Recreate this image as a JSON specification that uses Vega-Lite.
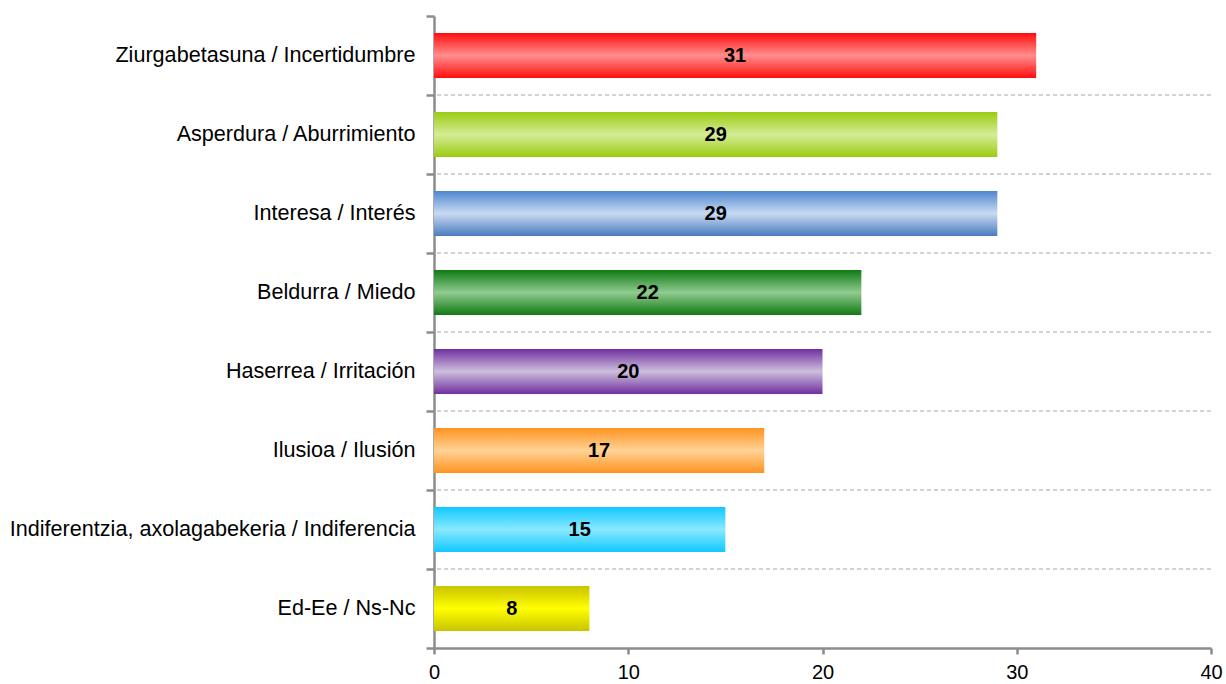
{
  "$schema": "https://vega.github.io/schema/vega-lite/v6.json",
  "width": 777,
  "height": 632,
  "autosize": {"type": "none"},
  "padding": {"left": 434, "top": 16, "right": 15, "bottom": 36},
  "background": "white",
  "config": {"view": {"stroke": null}, "font": "Liberation Sans"},
  "data": {"values": [
    {"cat": "Ziurgabetasuna / Incertidumbre", "n": 31},
    {"cat": "Asperdura / Aburrimiento", "n": 29},
    {"cat": "Interesa / Interés", "n": 29},
    {"cat": "Beldurra / Miedo", "n": 22},
    {"cat": "Haserrea / Irritación", "n": 20},
    {"cat": "Ilusioa / Ilusión", "n": 17},
    {"cat": "Indiferentzia, axolagabekeria / Indiferencia", "n": 15},
    {"cat": "Ed-Ee / Ns-Nc", "n": 8}
  ]},
  "encoding": {
    "y": {
      "field": "cat", "type": "nominal", "title": null,
      "scale": {
        "domain": ["Ziurgabetasuna / Incertidumbre", "Asperdura / Aburrimiento", "Interesa / Interés", "Beldurra / Miedo", "Haserrea / Irritación", "Ilusioa / Ilusión", "Indiferentzia, axolagabekeria / Indiferencia", "Ed-Ee / Ns-Nc"],
        "paddingInner": 0, "paddingOuter": 0
      },
      "axis": {
        "domainColor": "#8c8c8c", "domainWidth": 2.5,
        "tickColor": "#8c8c8c", "tickWidth": 2.5, "tickSize": 8,
        "bandPosition": 1, "tickExtra": true,
        "labelFontSize": 21.6, "labelColor": "#000000", "labelPadding": 11,
        "labelLimit": 500, "grid": false
      }
    }
  },
  "layer": [
    {
      "transform": [{"filter": "datum.cat !== 'Ed-Ee / Ns-Nc'"}],
      "mark": {"type": "rule", "color": "#a6a6a6", "strokeWidth": 1, "strokeDash": [4, 3]},
      "encoding": {"y": {"field": "cat", "type": "nominal", "bandPosition": 1}}
    },
    {
      "transform": [{"filter": "datum.cat === 'Ziurgabetasuna / Incertidumbre'"}],
      "mark": {"type": "bar", "height": {"band": 0.57}, "color": {"gradient": "linear", "x1": 0, "y1": 0, "x2": 0, "y2": 1, "stops": [{"offset": 0, "color": "#ff0d0d"}, {"offset": 0.5, "color": "#ff8e8e"}, {"offset": 1, "color": "#ff0d0d"}]}},
      "encoding": {"x": {"field": "n", "type": "quantitative", "title": null,
        "scale": {"domain": [0, 40], "nice": false},
        "axis": {"values": [0, 10, 20, 30, 40], "grid": false, "domainColor": "#8c8c8c", "domainWidth": 2.5, "tickColor": "#8c8c8c", "tickWidth": 2.5, "tickSize": 6, "labelFontSize": 20, "labelColor": "#000000", "labelPadding": 8, "labelFlush": false}}}
    },
    {
      "transform": [{"filter": "datum.cat === 'Asperdura / Aburrimiento'"}],
      "mark": {"type": "bar", "height": {"band": 0.57}, "color": {"gradient": "linear", "x1": 0, "y1": 0, "x2": 0, "y2": 1, "stops": [{"offset": 0, "color": "#99cc11"}, {"offset": 0.5, "color": "#d6ec96"}, {"offset": 1, "color": "#99cc11"}]}},
      "encoding": {"x": {"field": "n", "type": "quantitative", "title": null}}
    },
    {
      "transform": [{"filter": "datum.cat === 'Interesa / Interés'"}],
      "mark": {"type": "bar", "height": {"band": 0.57}, "color": {"gradient": "linear", "x1": 0, "y1": 0, "x2": 0, "y2": 1, "stops": [{"offset": 0, "color": "#4f86cf"}, {"offset": 0.5, "color": "#c8daf2"}, {"offset": 1, "color": "#4a7bbf"}]}},
      "encoding": {"x": {"field": "n", "type": "quantitative", "title": null}}
    },
    {
      "transform": [{"filter": "datum.cat === 'Beldurra / Miedo'"}],
      "mark": {"type": "bar", "height": {"band": 0.57}, "color": {"gradient": "linear", "x1": 0, "y1": 0, "x2": 0, "y2": 1, "stops": [{"offset": 0, "color": "#0f7a12"}, {"offset": 0.5, "color": "#90cb90"}, {"offset": 1, "color": "#0f7a12"}]}},
      "encoding": {"x": {"field": "n", "type": "quantitative", "title": null}}
    },
    {
      "transform": [{"filter": "datum.cat === 'Haserrea / Irritación'"}],
      "mark": {"type": "bar", "height": {"band": 0.57}, "color": {"gradient": "linear", "x1": 0, "y1": 0, "x2": 0, "y2": 1, "stops": [{"offset": 0, "color": "#7030a0"}, {"offset": 0.5, "color": "#cdbedc"}, {"offset": 1, "color": "#7030a0"}]}},
      "encoding": {"x": {"field": "n", "type": "quantitative", "title": null}}
    },
    {
      "transform": [{"filter": "datum.cat === 'Ilusioa / Ilusión'"}],
      "mark": {"type": "bar", "height": {"band": 0.57}, "color": {"gradient": "linear", "x1": 0, "y1": 0, "x2": 0, "y2": 1, "stops": [{"offset": 0, "color": "#ff9420"}, {"offset": 0.5, "color": "#ffd296"}, {"offset": 1, "color": "#ff9420"}]}},
      "encoding": {"x": {"field": "n", "type": "quantitative", "title": null}}
    },
    {
      "transform": [{"filter": "datum.cat === 'Indiferentzia, axolagabekeria / Indiferencia'"}],
      "mark": {"type": "bar", "height": {"band": 0.57}, "color": {"gradient": "linear", "x1": 0, "y1": 0, "x2": 0, "y2": 1, "stops": [{"offset": 0, "color": "#10c8ff"}, {"offset": 0.5, "color": "#8ae9ff"}, {"offset": 1, "color": "#10c8ff"}]}},
      "encoding": {"x": {"field": "n", "type": "quantitative", "title": null}}
    },
    {
      "transform": [{"filter": "datum.cat === 'Ed-Ee / Ns-Nc'"}],
      "mark": {"type": "bar", "height": {"band": 0.57}, "color": {"gradient": "linear", "x1": 0, "y1": 0, "x2": 0, "y2": 1, "stops": [{"offset": 0, "color": "#c8c400"}, {"offset": 0.5, "color": "#ffff00"}, {"offset": 1, "color": "#c8c400"}]}},
      "encoding": {"x": {"field": "n", "type": "quantitative", "title": null}}
    },
    {
      "transform": [{"calculate": "datum.n / 2", "as": "mid"}],
      "mark": {"type": "text", "fontSize": 20, "fontWeight": "bold", "color": "#000000", "align": "center", "baseline": "middle"},
      "encoding": {
        "x": {"field": "mid", "type": "quantitative", "title": null},
        "text": {"field": "n", "type": "quantitative"}
      }
    }
  ]
}
